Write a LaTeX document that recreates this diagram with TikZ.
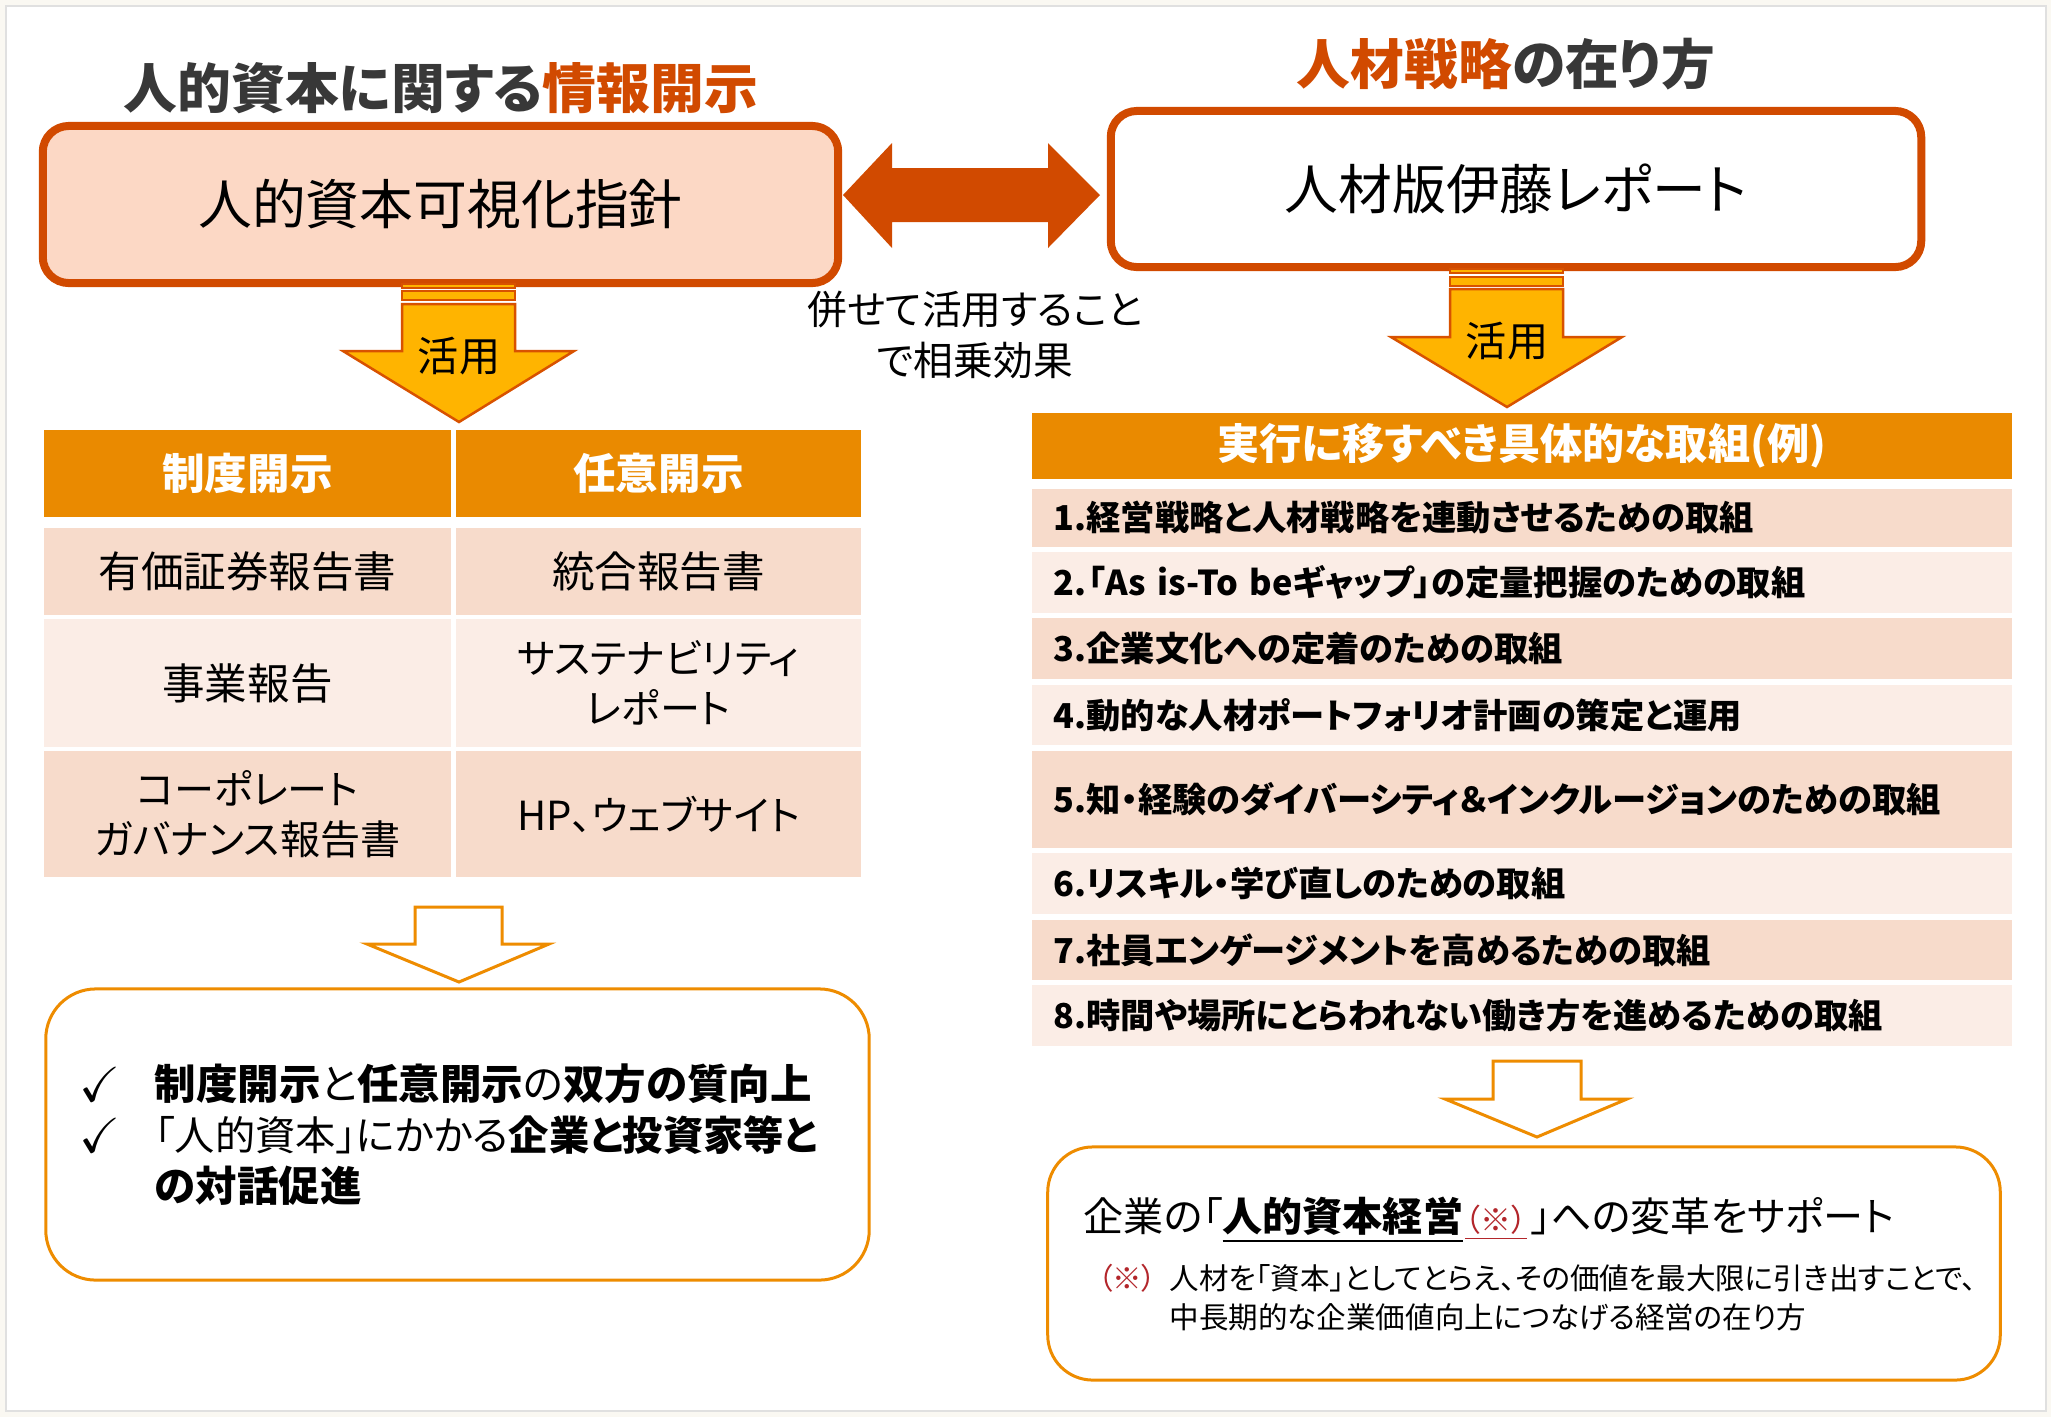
\documentclass[tikz,border=0pt]{standalone}
\usepackage{amssymb}
\usepackage{fontspec}
\setmainfont{Noto Sans CJK JP}[RawFeature=+palt]
\usetikzlibrary{calc}
\definecolor{rust}{HTML}{D14A00}
\definecolor{peach}{HTML}{FCD8C5}
\definecolor{tangerine}{HTML}{EA8A00}
\definecolor{rowdark}{HTML}{F7DBCB}
\definecolor{rowlight}{HTML}{FBEDE6}
\definecolor{gold}{HTML}{FFB400}
\definecolor{hollow}{HTML}{EE8C00}
\definecolor{ink}{HTML}{383838}
\definecolor{notered}{HTML}{B3262B}
\definecolor{cream}{HTML}{FAF8F2}
\tikzset{
  words/.style={inner sep=0pt},
  bigbox/.style={draw=rust, line width=0.08cm, rounded corners=0.26cm, inner sep=0pt, font=\fontsize{15.3}{18}\selectfont},
  headcell/.style={fill=tangerine, text=white, inner sep=0pt, font=\bfseries\fontsize{12.1}{14.5}\selectfont},
  bodycell/.style={inner sep=0pt, align=center, font=\fontsize{12.1}{14.3}\selectfont},
  kanacell/.style={bodycell, font=\fontsize{11.4}{14.3}\selectfont},
  listcell/.style={minimum width=9.8cm, text width=9.36cm, inner xsep=0.22cm, inner ysep=0pt, align=left, font=\bfseries\fontsize{9.75}{11}\selectfont},
  goldarrow/.style={fill=gold, draw=rust!85!orange, line width=0.025cm},
  hollowarrow/.style={fill=white, draw=hollow, line width=0.03cm},
  roundbox/.style={draw=hollow, line width=0.03cm, fill=white, inner sep=0pt}
}
\begin{document}
\begin{tikzpicture}[x=0.01cm,y=-0.01cm]
	\fill[cream] (0,0) rectangle (2051,1417);
	\draw[fill=white, draw=black!12, line width=0.02cm] (6,6) rectangle (2046,1411);
	\useasboundingbox (0,0) rectangle (2051,1417);
	% titles
	\node[words, text=ink, font=\bfseries\fontsize{15.3}{18}\selectfont] (lefttitle) at (441,88) {人的資本に関する\textcolor{rust}{情報開示}};
	\node[words, text=ink, font=\bfseries\fontsize{15.3}{18}\selectfont] (righttitle) at (1506,64) {\textcolor{rust}{人材戦略}の在り方};
	% main boxes
	\node[bigbox, fill=peach, minimum width=7.95cm, minimum height=1.57cm] (guide) at (440.5,204.5) {人的資本可視化指針};
	\node[bigbox, fill=white, minimum width=8.1cm, minimum height=1.56cm] (ito) at (1516,189) {人材版伊藤レポート};
	\fill[rust] (843,195) -- (892,143) -- (892,168) -- (1048,168) -- (1048,143) -- (1100,195) -- (1048,248) -- (1048,222) -- (892,222) -- (892,248) -- cycle;
	\node[words, align=center, font=\fontsize{11.3}{14.4}\selectfont] (synergy) at (975,335) {併せて活用すること\\で相乗効果};
	% striped arrows
	\draw[goldarrow] (402,284) rectangle (515,288);
	\draw[goldarrow] (402,291) rectangle (515,300);
	\draw[goldarrow] (402,304) -- (515,304) -- (515,351) -- (574,351) -- (459,422) -- (343,351) -- (402,351) -- cycle;
	\node[words, font=\fontsize{11.7}{14}\selectfont] (useleft) at (459,356) {活用};
	\draw[goldarrow] (1450,269) rectangle (1563,273);
	\draw[goldarrow] (1450,277) rectangle (1563,286);
	\draw[goldarrow] (1450,289) -- (1563,289) -- (1563,337) -- (1622,337) -- (1507,407) -- (1391,337) -- (1450,337) -- cycle;
	\node[words, font=\fontsize{11.7}{14}\selectfont] (useright) at (1507,341) {活用};
	% disclosure table
	\node[headcell, minimum width=4.07cm, minimum height=0.87cm] (seido) at (247.5,473.5) {制度開示};
	\node[headcell, minimum width=4.05cm, minimum height=0.87cm] (nini) at (658.5,473.5) {任意開示};
	\node[bodycell, fill=rowdark, minimum width=4.07cm, minimum height=0.87cm] (yuho) at (247.5,571.5) {有価証券報告書};
	\node[bodycell, fill=rowdark, minimum width=4.05cm, minimum height=0.87cm] (togo) at (658.5,571.5) {統合報告書};
	\node[bodycell, fill=rowlight, minimum width=4.07cm, minimum height=1.28cm] (jigyo) at (247.5,683) {事業報告};
	\node[kanacell, fill=rowlight, minimum width=4.05cm, minimum height=1.28cm] (sustain) at (658.5,683) {サステナビリティ\\レポート};
	\node[kanacell, fill=rowdark, minimum width=4.07cm, minimum height=1.26cm] (cg) at (247.5,814) {コーポレート\\ガバナンス報告書};
	\node[kanacell, fill=rowdark, minimum width=4.05cm, minimum height=1.26cm] (web) at (658.5,814) {HP、ウェブサイト};
	% measures list
	\node[headcell, minimum width=9.8cm, minimum height=0.66cm, font=\bfseries\fontsize{12}{14}\selectfont] (measures) at (1522,446) {実行に移すべき具体的な取組(例)};
	\node[listcell, fill=rowdark, minimum height=0.58cm] (m1) at (1522,518) {1.経営戦略と人材戦略を連動させるための取組};
	\node[listcell, fill=rowlight, minimum height=0.61cm] (m2) at (1522,582.5) {2.\kern0.05em「As is-To beギャップ」の定量把握のための取組};
	\node[listcell, fill=rowdark, minimum height=0.61cm] (m3) at (1522,648.5) {3.企業文化への定着のための取組};
	\node[listcell, fill=rowlight, minimum height=0.60cm] (m4) at (1522,715) {4.動的な人材ポートフォリオ計画の策定と運用};
	\node[listcell, fill=rowdark, minimum height=0.97cm] (m5) at (1522,799.5) {5.知・経験のダイバーシティ＆インクルージョンのための取組};
	\node[listcell, fill=rowlight, minimum height=0.61cm] (m6) at (1522,883.5) {6.リスキル・学び直しのための取組};
	\node[listcell, fill=rowdark, minimum height=0.60cm] (m7) at (1522,950) {7.社員エンゲージメントを高めるための取組};
	\node[listcell, fill=rowlight, minimum height=0.61cm] (m8) at (1522,1015.5) {8.時間や場所にとらわれない働き方を進めるための取組};
	% outcome boxes
	\draw[hollowarrow] (415,907) -- (502,907) -- (502,944) -- (549,944) -- (459,982) -- (367,944) -- (415,944) -- cycle;
	\node[roundbox, rounded corners=0.5cm, minimum width=8.23cm, minimum height=2.91cm] (merit) at (457.5,1134.5) {};
	\node[words, font=\fontsize{14}{16}\selectfont] (tick1) at (100,1084) {$\checkmark$};
	\node[words, font=\fontsize{14}{16}\selectfont] (tick2) at (100,1135) {$\checkmark$};
	\node[words, anchor=west, font=\fontsize{11.8}{14}\selectfont] (item1) at (154,1084) {\textbf{制度開示}と\textbf{任意開示}の\textbf{双方の質向上}};
	\node[words, anchor=west, font=\fontsize{11.45}{14}\selectfont] (item2) at (154,1135) {「人的資本」にかかる\textbf{企業と投資家等と}};
	\node[words, anchor=west, font=\fontsize{11.8}{14}\selectfont] (item3) at (154,1186) {\textbf{の対話促進}};
	\draw[hollowarrow] (1493,1061) -- (1581,1061) -- (1581,1099) -- (1627,1099) -- (1537,1137) -- (1445,1099) -- (1493,1099) -- cycle;
	\node[roundbox, rounded corners=0.45cm, minimum width=9.52cm, minimum height=2.33cm] (support) at (1524,1263.5) {};
	\node[words, anchor=west, font=\fontsize{11.4}{14}\selectfont] (mainline) at (1083,1220) {企業の「\textbf{\underline{人的資本経営}}\kern0.05em{\color{notered}\fontsize{8.8}{10}\selectfont\underline{（※）}}\kern0.1em」への変革をサポート};
	\node[words, anchor=west, text=notered, font=\fontsize{8.4}{10}\selectfont] (mark) at (1097,1278) {（※）};
	\node[words, anchor=west, font=\fontsize{8.4}{10}\selectfont] (note1) at (1169,1278) {人材を「資本」としてとらえ、その価値を最大限に引き出すことで、};
	\node[words, anchor=west, font=\fontsize{8.4}{10}\selectfont] (note2) at (1169,1317) {中長期的な企業価値向上につなげる経営の在り方};
\end{tikzpicture}
\end{document}
